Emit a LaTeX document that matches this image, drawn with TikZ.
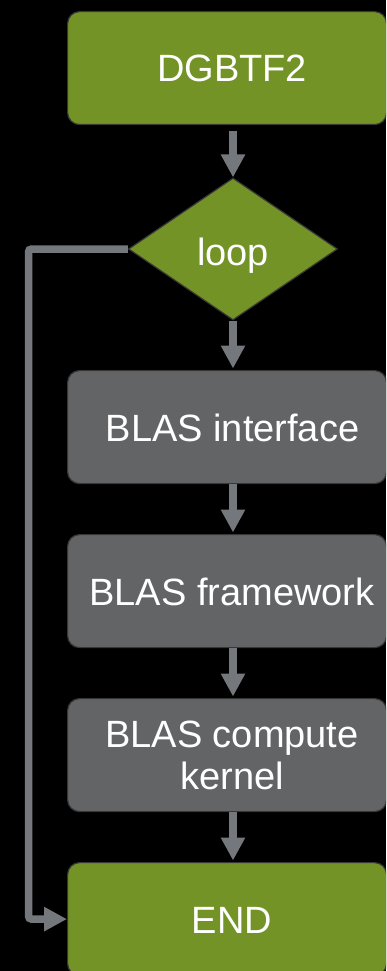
\documentclass[tikz,border=0pt]{standalone}
\usepackage{fontspec}
\setmainfont{Liberation Sans}
\usetikzlibrary{arrows.meta,shapes.geometric,calc}
\definecolor{boxgreen}{RGB}{115,147,39}
\definecolor{boxgray}{RGB}{99,100,102}
\definecolor{flowgray}{RGB}{116,119,124}
\definecolor{edgedark}{RGB}{55,55,55}

\begin{document}
\begin{tikzpicture}[x=1pt,y=-1pt,
  stage/.style={draw=edgedark, line width=1.2pt, rounded corners=12pt,
    minimum width=319pt, minimum height=113pt, inner sep=0pt,
    anchor=north west},
  lbl/.style={text=white, font=\fontsize{38}{42}\selectfont, align=center,
    inner sep=0pt},
  flow/.style={draw=flowgray, line width=7.5pt,
    -{Triangle[width=23pt,length=23pt]}},
]
% page area
\fill[black] (0,0) rectangle (386,971);
\useasboundingbox (0,0) rectangle (386,971);
\clip (0,0) rectangle (386,971);

% boxes
\node[stage, fill=boxgreen] (start) at (67,11) {};
\node[diamond, draw=edgedark, line width=1.2pt, fill=boxgreen,
      minimum width=209pt, minimum height=142pt, inner sep=0pt,
      aspect=1.47] (loop) at (233,249) {};
\node[stage, fill=boxgray] (iface) at (67,370) {};
\node[stage, fill=boxgray] (frame) at (67,534) {};
\node[stage, fill=boxgray] (kern) at (67,698) {};
\node[stage, fill=boxgreen] (finish) at (67,862) {};

% labels
\node[lbl, anchor=base] (startlbl) at (232,82) {DGBTF2};
\node[lbl, anchor=base] (looplbl) at (233,265) {loop};
\node[lbl, anchor=base] (ifacelbl) at (232.5,441) {BLAS interface};
\node[lbl, anchor=base] (framelbl) at (232,605) {BLAS framework};
\node[lbl] (kernlbl) at (232,755) {BLAS compute\\kernel};
\node[lbl, anchor=base] (finishlbl) at (232,933) {END};

% main flow
\draw[flow, shorten <=6pt] (loop.north |- start.south) -- (loop.north);
\draw[flow, shorten >=1.5pt] (loop.south) -- (loop.south |- iface.north);
\draw[flow, shorten >=1.5pt] (loop.south |- iface.south) -- (loop.south |- frame.north);
\draw[flow, shorten >=1.5pt] (loop.south |- frame.south) -- (loop.south |- kern.north);
\draw[flow, shorten >=1.5pt] (loop.south |- kern.south) -- (loop.south |- finish.north);

% loop exit
\coordinate (rail) at (28.5,0);
\draw[flow, rounded corners=3pt] (loop.west) -| (rail |- finish.west) -- (finish.west);
\end{tikzpicture}
\end{document}
